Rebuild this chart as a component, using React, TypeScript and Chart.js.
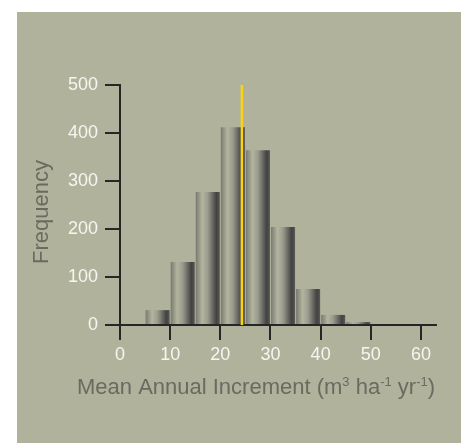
import React, { useEffect, useRef } from "react";
import { Chart, registerables } from "chart.js";

Chart.register(...registerables);

// ---- data ----
const binCenters = [7.5, 12.5, 17.5, 22.5, 27.5, 32.5, 37.5, 42.5, 47.5];
const frequencies = [31, 131, 277, 412, 364, 204, 75, 21, 6];
const meanValue = 24.3;
const meanLineY = [0, 500];
const xTicks = [0, 10, 20, 30, 40, 50, 60];
const yTicks = [0, 100, 200, 300, 400, 500];
const yTitle = "Frequency";
const xTitleParts: { t: string; sup: boolean }[] = [
  { t: "Mean Annual Increment (m", sup: false },
  { t: "3", sup: true },
  { t: " ha", sup: false },
  { t: "-1", sup: true },
  { t: " yr", sup: false },
  { t: "-1", sup: true },
  { t: ")", sup: false },
];

const PANEL = "#b1b29c";
const AXIS = "#262626";
const TICK_TEXT = "#f6f6f0";
const TITLE_TEXT = "#6a6b60";
const FONT = '"Liberation Sans", Arial, Helvetica, sans-serif';

const titlesPlugin = {
  id: "customTitles",
  afterDraw(chart: any) {
    const { ctx, chartArea } = chart;
    ctx.save();
    ctx.fillStyle = TITLE_TEXT;
    // y title
    ctx.save();
    ctx.font = `22px ${FONT}`;
    ctx.translate(chartArea.left - 78.5, (chartArea.top + chartArea.bottom) / 2 + 7);
    ctx.rotate(-Math.PI / 2);
    ctx.textAlign = "center";
    ctx.textBaseline = "middle";
    ctx.fillText(yTitle, 0, 0);
    ctx.restore();
    // x title with superscripts
    const big = `22px ${FONT}`;
    const small = `13px ${FONT}`;
    let total = 0;
    for (const p of xTitleParts) {
      ctx.font = p.sup ? small : big;
      total += ctx.measureText(p.t).width;
    }
    const cx = chartArea.left + 136;
    const baseY = chartArea.bottom + 69;
    let x = cx - total / 2;
    ctx.textAlign = "left";
    ctx.textBaseline = "alphabetic";
    for (const p of xTitleParts) {
      ctx.font = p.sup ? small : big;
      ctx.fillText(p.t, x, p.sup ? baseY - 8 : baseY);
      x += ctx.measureText(p.t).width;
    }
    ctx.restore();
  },
};

export default function App() {
  const ref = useRef<HTMLCanvasElement | null>(null);
  useEffect(() => {
    if (!ref.current) return;
    const barGradient = (c: any) => {
      const chart = c.chart;
      const xs = chart.scales && chart.scales.x;
      if (!xs || !c.raw) return "#8a8b80";
      const left = xs.getPixelForValue(c.raw.x - 2.5);
      const right = xs.getPixelForValue(c.raw.x + 2.5);
      if (!Number.isFinite(left) || !Number.isFinite(right) || right <= left) return "#8a8b80";
      const g = chart.ctx.createLinearGradient(left, 0, right, 0);
      g.addColorStop(0, "#74756b");
      g.addColorStop(0.28, "#b3b59f");
      g.addColorStop(0.5, "#9a9b8d");
      g.addColorStop(0.85, "#414141");
      g.addColorStop(1, "#5d5d59");
      return g;
    };
    const chart = new Chart(ref.current, {
      type: "bar",
      data: {
        datasets: [
          {
            type: "line",
            data: meanLineY.map((y) => ({ x: meanValue, y })),
            borderColor: "#f8d415",
            borderWidth: 2.5,
            pointRadius: 0,
            order: 0,
          } as any,
          {
            type: "bar",
            data: binCenters.map((x, i) => ({ x, y: frequencies[i] })),
            backgroundColor: barGradient,
            borderWidth: 0,
            barPercentage: 0.96,
            categoryPercentage: 1,
            order: 1,
          } as any,
        ],
      },
      options: {
        responsive: false,
        animation: false,
        layout: { padding: { left: 0, top: 73, right: 25, bottom: 0 } },
        plugins: { legend: { display: false }, tooltip: { enabled: false }, title: { display: false } },
        scales: {
          x: {
            type: "linear",
            min: 0,
            max: 63,
            offset: false,
            afterFit: (s: any) => {
              s.height = 118;
            },
            afterBuildTicks: (s: any) => {
              s.ticks = xTicks.map((v) => ({ value: v }));
            },
            ticks: {
              color: TICK_TEXT,
              font: { size: 18, family: FONT },
              padding: 4,
              maxRotation: 0,
              autoSkip: false,
            },
            grid: {
              offset: false,
              drawOnChartArea: false,
              drawTicks: true,
              tickLength: 15,
              color: AXIS,
              lineWidth: 2,
            },
            border: { display: true, color: AXIS, width: 2 },
          },
          y: {
            type: "linear",
            min: 0,
            max: 500,
            afterFit: (s: any) => {
              s.width = 103;
            },
            afterBuildTicks: (s: any) => {
              s.ticks = yTicks.map((v) => ({ value: v }));
            },
            ticks: {
              color: TICK_TEXT,
              font: { size: 18, family: FONT },
              padding: 7,
            },
            grid: {
              drawOnChartArea: false,
              drawTicks: true,
              tickLength: 15,
              color: AXIS,
              lineWidth: 2,
            },
            border: { display: true, color: AXIS, width: 2 },
          },
        },
      },
      plugins: [titlesPlugin],
    } as any);
    return () => chart.destroy();
  }, []);
  return (
    <div
      style={{
        position: "absolute",
        left: 17,
        top: 12,
        width: 444,
        height: 431,
        background: PANEL,
      }}
    >
      <canvas ref={ref} width={444} height={431} style={{ display: "block" }} />
    </div>
  );
}
